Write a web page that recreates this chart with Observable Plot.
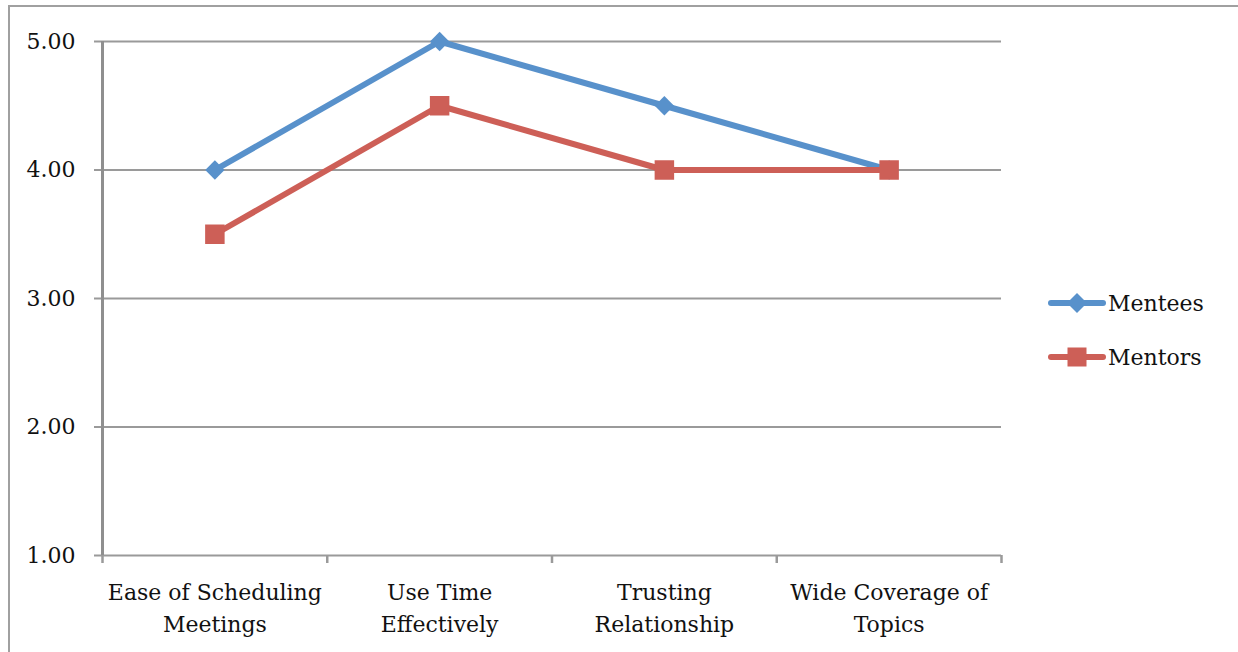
<!DOCTYPE html>
<html><head><meta charset="utf-8">
<script src="https://cdn.jsdelivr.net/npm/d3@7"></script>
<script src="https://cdn.jsdelivr.net/npm/@observablehq/plot@0.6"></script>
<style>
body{margin:0;background:#fff;}
#wrap{position:relative;width:1238px;height:652px;overflow:hidden;font-family:"DejaVu Serif",serif;}
#frame{position:absolute;left:8px;top:5px;width:1400px;height:800px;border-top:2px solid #a0a0a0;border-left:2px solid #a0a0a0;}
#chart{position:absolute;left:0;top:0;}
.leg{position:absolute;left:1048px;display:flex;align-items:center;font-size:22px;color:#111;}
.leg svg{display:block;}
</style></head>
<body><div id="wrap"><div id="frame"></div><div id="chart"></div><div id="legend"></div></div>
<script>
const categories = ["Ease of Scheduling\nMeetings","Use Time\nEffectively","Trusting\nRelationship","Wide Coverage of\nTopics"];
const mentees = [4.0, 5.0, 4.5, 4.0];
const mentors = [3.5, 4.5, 4.0, 4.0];
const yTicks = [1, 2, 3, 4, 5];
const seriesNames = ["Mentees", "Mentors"];
const colors = ["#5891CB", "#CD5F57"];

const idx = categories.map((_, i) => i);
const boundaries = [...idx.map(i => i - 0.5), categories.length - 0.5];
const menteeData = idx.map(i => ({i, v: mentees[i]}));
const mentorData = idx.map(i => ({i, v: mentors[i]}));

const plot = Plot.plot({
  width: 1238, height: 652,
  marginLeft: 102, marginRight: 237, marginTop: 41, marginBottom: 97,
  style: {fontFamily: "DejaVu Serif", fontSize: "22px", color: "#111", background: "transparent"},
  x: {type: "linear", domain: [-0.5, categories.length - 0.5], axis: null},
  y: {type: "linear", domain: [1, 5], axis: null},
  marks: [
    Plot.ruleY(yTicks, {y: d => d, stroke: "#9a9a9a", strokeWidth: 2, insetLeft: -8}),
    Plot.ruleX(boundaries, {x: d => d, y1: 1, y2: 1, insetBottom: -8, stroke: "#9a9a9a", strokeWidth: 2.5}),
    Plot.ruleX([-0.5], {x: d => d, y1: 1, y2: 5, stroke: "#8f8f8f", strokeWidth: 3}),
    Plot.text(yTicks, {x: -0.5, y: d => d, text: d => d3.format(".2f")(d), textAnchor: "end", dx: -27, fontSize: 22, fill: "#111"}),
    Plot.text(idx, {x: d => d, y: 1, text: d => categories[d], lineAnchor: "top", dy: 22, lineHeight: 1.45, fontSize: 22, fill: "#111"}),
    Plot.line(menteeData, {x: "i", y: "v", stroke: colors[0], strokeWidth: 6}),
    Plot.line(mentorData, {x: "i", y: "v", stroke: colors[1], strokeWidth: 6}),
    Plot.dot(menteeData, {x: "i", y: "v", symbol: "diamond2", r: 8.7, fill: colors[0], stroke: "none"}),
    Plot.dot(mentorData, {x: "i", y: "v", symbol: "square", r: 11, fill: colors[1], stroke: "none"})
  ]
});
document.getElementById("chart").appendChild(plot);

// legend
const legend = document.getElementById("legend");
const tops = [286, 340];
seriesNames.forEach((name, k) => {
  const div = document.createElement("div");
  div.className = "leg";
  div.style.top = tops[k] + "px";
  const sym = k === 0
    ? `<path d="M29,7 L39,17 L29,27 L19,17 Z" fill="${colors[k]}"/>`
    : `<rect x="19.5" y="7.5" width="19" height="19" fill="${colors[k]}"/>`;
  div.innerHTML = `<svg width="58" height="34"><line x1="3" x2="55" y1="17" y2="17" stroke="${colors[k]}" stroke-width="6" stroke-linecap="round"/>${sym}</svg><span style="margin-left:2px">${name}</span>`;
  legend.appendChild(div);
});
</script></body></html>
